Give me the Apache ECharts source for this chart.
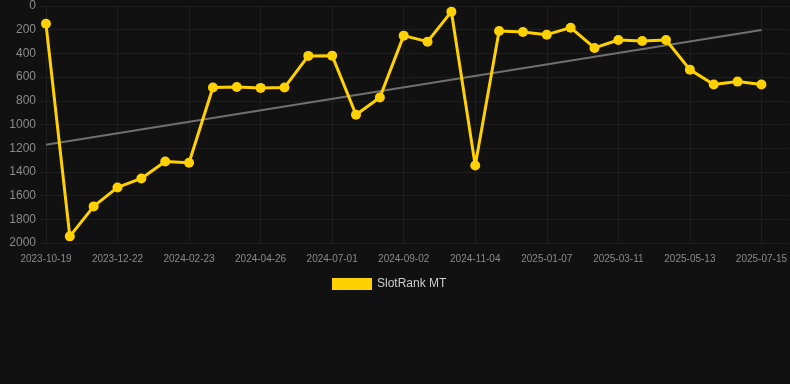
<!DOCTYPE html>
<html>
<head>
<meta charset="utf-8">
<script src="https://cdn.jsdelivr.net/npm/echarts@6/dist/echarts.min.js"></script>
<style>
html, body { margin: 0; padding: 0; background: #111111; }
#chart { width: 790px; height: 384px; }
</style>
</head>
<body>
<div id="chart"></div>
<script>
// one point every ~3 weeks
const dates = [
    '2023-10-19', '2023-11-09', '2023-11-30', '2023-12-22', '2024-01-12', '2024-02-02',
    '2024-02-23', '2024-03-15', '2024-04-05', '2024-04-26', '2024-05-17', '2024-06-09',
    '2024-07-01', '2024-07-22', '2024-08-12', '2024-09-02', '2024-09-23', '2024-10-14',
    '2024-11-04', '2024-11-25', '2024-12-16', '2025-01-07', '2025-01-28', '2025-02-18',
    '2025-03-11', '2025-04-01', '2025-04-22', '2025-05-13', '2025-06-03', '2025-06-24',
    '2025-07-15'
]
const rank = [
    150, 1944, 1691, 1531, 1455, 1312, 1323, 688, 683, 691, 688, 421, 419, 918, 772,
    250, 301, 48, 1346, 211, 219, 242, 183, 354, 287, 295, 287, 537, 663, 638, 663
]
// trend start / end
const trend = [1170, 202]
const labelIdx = [0, 3, 6, 9, 12, 15, 18, 21, 24, 27, 30]

let myChart = echarts.init(document.getElementById('chart'))
let option = {
    backgroundColor: '#111111',
    animation: false,
    legend: {
        data: [{ name: 'SlotRank MT', icon: 'rect' }],
        top: 273,
        left: 327,
        itemWidth: 40,
        itemHeight: 12,
        itemGap: 6,
        textStyle: { color: '#cccccc', fontSize: 12, fontFamily: 'Liberation Sans' }
    },
    grid: {
        left: 40,
        right: 0,
        top: 6,
        bottom: 141
    },
    xAxis: {
        type: 'value',
        min: -0.25,
        max: 31.17,
        axisLine: { show: false },
        axisTick: { show: false, customValues: labelIdx },
        axisLabel: {
            customValues: labelIdx,
            color: '#8a8a8a',
            fontSize: 10,
            fontFamily: 'Liberation Sans',
            margin: 11,
            formatter: function (v) {
                return dates[Math.round(v)]
            }
        },
        splitLine: { show: true, lineStyle: { color: '#1e1e1e', width: 1 } }
    },
    yAxis: {
        type: 'value',
        inverse: true,
        min: 0,
        max: 2000,
        interval: 200,
        axisLine: { show: false },
        axisTick: { show: false },
        axisLabel: {
            color: '#8a8a8a',
            fontSize: 12,
            fontFamily: 'Liberation Sans',
            margin: 4,
            formatter: function (v) {
                return String(v)
            }
        },
        splitLine: { lineStyle: { color: '#1e1e1e', width: 1 } }
    },
    series: [
        {
            name: 'trend',
            type: 'line',
            data: [[0, trend[0]], [30, trend[1]]],
            symbol: 'none',
            lineStyle: { color: '#707070', width: 2 },
            z: 1
        },
        {
            name: 'SlotRank MT',
            type: 'line',
            data: rank.map((v, i) => [i, v]),
            symbol: 'circle',
            symbolSize: 10,
            itemStyle: { color: '#FFD100' },
            lineStyle: { color: '#FFD100', width: 3 },
            z: 2
        }
    ]
}
myChart.setOption(option)
window.addEventListener('resize', function () {
    myChart.resize()
})
</script>
</body>
</html>
